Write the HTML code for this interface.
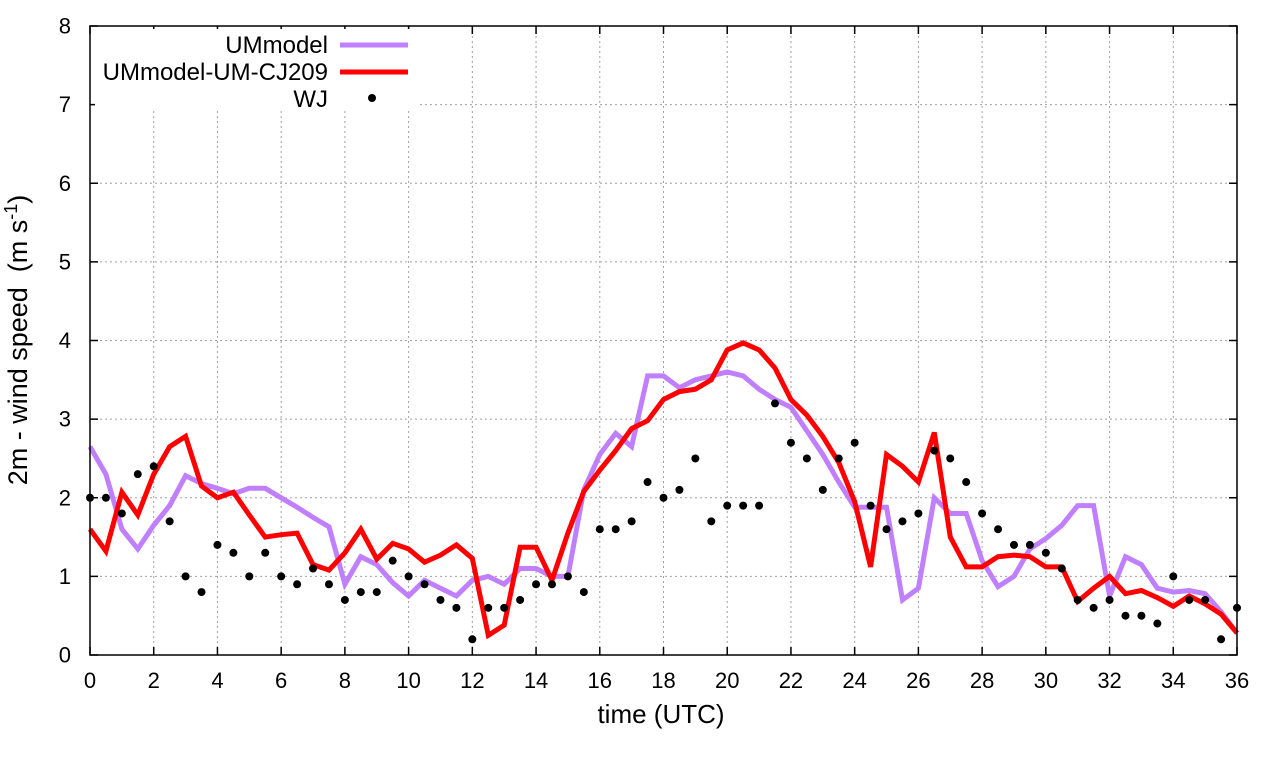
<!DOCTYPE html>
<html><head><meta charset="utf-8"><style>
body{margin:0;background:#fff;}
svg{display:block;font-family:"Liberation Sans",sans-serif;}
</style></head><body>
<svg id="chart" width="1280" height="760">
<g id="grid"></g>
<g id="series"></g>
<rect x="90" y="26" width="1147" height="629" fill="none" stroke="#000" stroke-width="1.5"/>
<g id="ticks"></g>
<text x="661" y="723" font-size="26" text-anchor="middle">time (UTC)</text>
<text transform="translate(27,340) rotate(-90)" font-size="27" text-anchor="middle" xml:space="preserve">2m - wind speed  (m s<tspan dy="-10" font-size="18">-1</tspan><tspan dy="10">)</tspan></text>
<g>
<rect x="95" y="29" width="325" height="82" fill="#fff"/>
<text x="328" y="53" font-size="24" text-anchor="end">UMmodel</text>
<line x1="340" y1="45" x2="408" y2="45" stroke="#bf7fff" stroke-width="5"/>
<text x="328" y="80" font-size="24" text-anchor="end">UMmodel-UM-CJ209</text>
<line x1="340" y1="72" x2="408" y2="72" stroke="#ff0000" stroke-width="5"/>
<text x="328" y="107" font-size="24" text-anchor="end">WJ</text>
<circle cx="372" cy="98" r="4" fill="#000"/>
</g>
</svg>
<script>
const um = [2.65,2.3,1.6,1.35,1.65,1.9,2.28,2.18,2.12,2.05,2.12,2.12,2.0,1.88,1.75,1.63,0.9,1.25,1.15,0.92,0.75,0.95,0.85,0.75,0.95,1.0,0.9,1.1,1.1,1.0,1.0,2.1,2.55,2.82,2.65,3.55,3.55,3.4,3.5,3.55,3.6,3.55,3.38,3.25,3.15,2.85,2.55,2.2,1.88,1.88,1.88,0.7,0.85,2.0,1.8,1.8,1.2,0.87,1.0,1.35,1.48,1.65,1.9,1.9,0.75,1.25,1.15,0.85,0.8,0.82,0.78,0.55,0.28];
const cj = [1.6,1.32,2.07,1.78,2.3,2.65,2.78,2.15,2.0,2.07,1.78,1.5,1.53,1.55,1.15,1.08,1.3,1.6,1.22,1.42,1.35,1.18,1.27,1.4,1.23,0.25,0.38,1.37,1.37,0.95,1.55,2.08,2.35,2.6,2.88,2.98,3.25,3.35,3.38,3.5,3.88,3.97,3.88,3.65,3.25,3.05,2.78,2.45,1.95,1.12,2.55,2.4,2.2,2.83,1.5,1.12,1.12,1.25,1.27,1.25,1.12,1.12,0.68,0.85,1.0,0.78,0.82,0.73,0.62,0.75,0.65,0.52,0.28];
const wj = [2.0,2.0,1.8,2.3,2.4,1.7,1.0,0.8,1.4,1.3,1.0,1.3,1.0,0.9,1.1,0.9,0.7,0.8,0.8,1.2,1.0,0.9,0.7,0.6,0.2,0.6,0.6,0.7,0.9,0.9,1.0,0.8,1.6,1.6,1.7,2.2,2.0,2.1,2.5,1.7,1.9,1.9,1.9,3.2,2.7,2.5,2.1,2.5,2.7,1.9,1.6,1.7,1.8,2.6,2.5,2.2,1.8,1.6,1.4,1.4,1.3,1.1,0.7,0.6,0.7,0.5,0.5,0.4,1.0,0.7,0.7,0.2,0.6];
const xTicks = [0,2,4,6,8,10,12,14,16,18,20,22,24,26,28,30,32,34,36];
const yTicks = [0,1,2,3,4,5,6,7,8];
const step = 0.5;
const X = t => 90 + t*(1147/36);
const Y = v => 655 - v*(629/8);
const NS = "http://www.w3.org/2000/svg";
function mk(tag, attrs, parent){const e=document.createElementNS(NS,tag);for(const k in attrs)e.setAttribute(k,attrs[k]);parent.appendChild(e);return e;}
const grid=document.getElementById('grid'), ticks=document.getElementById('ticks'), ser=document.getElementById('series');
xTicks.forEach(t=>{
  if(t>0&&t<36){const g=mk('line',{x1:X(t),x2:X(t),y1:26,y2:655,stroke:'#a0a0a0','stroke-dasharray':'2,3','stroke-width':1},grid);
  
  }
  const a=mk('line',{x1:X(t),x2:X(t),y1:655,y2:647,stroke:'#000','stroke-width':1.5},ticks);
  
  
  const b=mk('line',{x1:X(t),x2:X(t),y1:26,y2:34,stroke:'#000','stroke-width':1.5},ticks);
  
  
  const l=mk('text',{x:X(t),y:688,'font-size':22,'text-anchor':'middle'},ticks);l.textContent=t;
  
  
});
yTicks.forEach(v=>{
  if(v>0&&v<8){const g=mk('line',{x1:90,x2:1237,y1:Y(v),y2:Y(v),stroke:'#a0a0a0','stroke-dasharray':'2,3','stroke-width':1},grid);
  
  }
  const a=mk('line',{x1:90,x2:98,y1:Y(v),y2:Y(v),stroke:'#000','stroke-width':1.5},ticks);
  
  
  const b=mk('line',{x1:1229,x2:1237,y1:Y(v),y2:Y(v),stroke:'#000','stroke-width':1.5},ticks);
  
  
  const l=mk('text',{x:71,y:Y(v)+7.5,'font-size':22,'text-anchor':'end'},ticks);l.textContent=v;
  
  
});
const pts = arr => arr.map((v,i)=>X(i*step).toFixed(1)+','+Y(v).toFixed(1)).join(' ');
const p1=mk('polyline',{points:pts(um),fill:'none',stroke:'#bf7fff','stroke-width':5,'stroke-linejoin':'miter'},ser);


const p2=mk('polyline',{points:pts(cj),fill:'none',stroke:'#ff0000','stroke-width':5,'stroke-linejoin':'miter'},ser);


wj.forEach((v,i)=>{
  const c=mk('circle',{cx:X(i*step),cy:Y(v),r:4,fill:'#000'},ser);
  
  
});
</script>
</body></html>
